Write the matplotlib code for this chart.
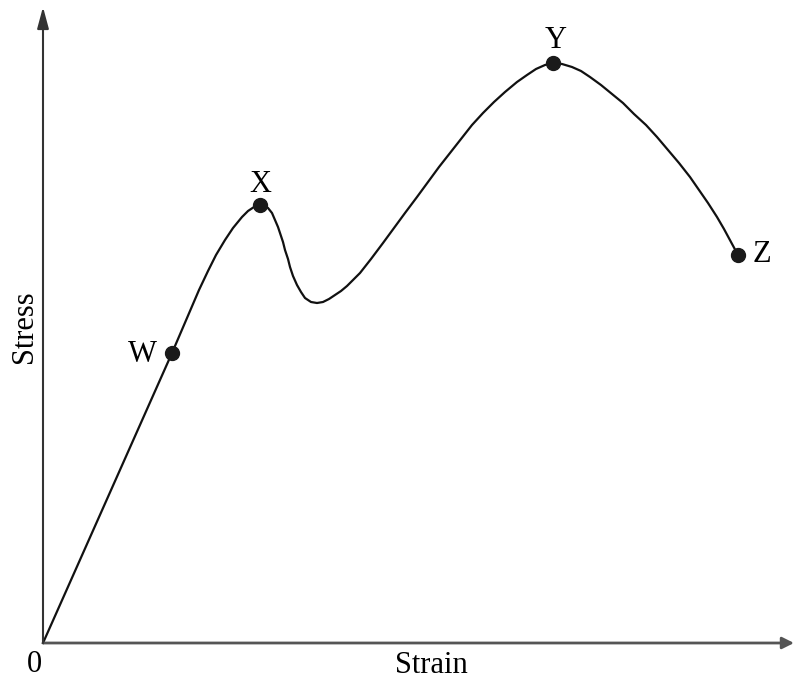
import matplotlib.pyplot as plt

# stress-strain curve (arbitrary units)
strain = [0, 129, 138, 147, 156, 165, 173, 182, 190, 199, 205, 211, 217,
          221, 225, 229, 232, 235, 237, 240, 242, 245, 247, 250, 254, 258,
          262, 268, 274, 280, 286, 292, 298, 304, 310, 317,
          328, 340, 351, 362, 374, 385, 396, 407, 418, 429, 440, 451,
          462, 474, 484, 493, 502, 510,
          519, 529, 538, 547, 558, 569, 580, 591, 603, 614, 625, 636, 647,
          656, 665, 674, 681, 688, 695]
stress = [0, 290, 311, 332, 353, 372, 388, 403, 415, 426, 432, 436, 438,
          438, 435, 430, 423, 416, 410, 401, 393, 384, 376, 367, 358, 351,
          345, 341, 340, 341, 344, 348, 352, 357, 363, 370,
          384, 400, 415, 430, 446, 461, 476, 490, 504, 518, 530, 541,
          551, 561, 568, 574, 578, 580,
          579, 576, 572, 566, 558, 549, 540, 529, 518, 506, 493, 480, 466,
          453, 440, 426, 414, 401, 388]

# labelled points W, X, Y, Z
pt_names = ['W', 'X', 'Y', 'Z']
pt_strain = [129, 217, 510, 695]
pt_stress = [290, 438, 580, 388]

plt.rcParams['font.family'] = ['Liberation Serif', 'DejaVu Serif']

fig = plt.figure(figsize=(7.94, 6.79), dpi=100)
ax = fig.add_axes([0, 0, 1, 1])
ax.set_xlim(-43, 751)
ax.set_ylim(-36, 643)
ax.axis('off')

# axes with arrow heads
ax.annotate('', xy=(751, 0), xytext=(0, 0),
            arrowprops=dict(arrowstyle='-|>,head_length=0.7,head_width=0.35',
                            color='#555555', lw=2, shrinkA=0, shrinkB=0))
ax.annotate('', xy=(0, 636), xytext=(0, 0),
            arrowprops=dict(arrowstyle='-|>,head_length=1.3,head_width=0.35',
                            color='#333333', lw=1.5, shrinkA=0, shrinkB=0))

ax.plot(strain, stress, color='#111111', lw=1.6, solid_joinstyle='round')
ax.plot(pt_strain, pt_stress, 'o', color='#1a1a1a', markersize=10)

fs = 22
ax.text(pt_strain[0] - 15, pt_stress[0] - 9, pt_names[0], fontsize=fs,
        ha='right', va='baseline')
ax.text(pt_strain[1], pt_stress[1] + 13, pt_names[1], fontsize=fs,
        ha='center', va='baseline')
ax.text(pt_strain[2] + 3, pt_stress[2] + 15, pt_names[2], fontsize=fs,
        ha='center', va='baseline')
ax.text(pt_strain[3] + 15, pt_stress[3] - 7, pt_names[3], fontsize=fs,
        ha='left', va='baseline')

ax.text(-9, -29, '0', fontsize=fs, ha='center', va='baseline')
ax.text(388, -30, 'Strain', fontsize=fs, ha='center', va='baseline')
ax.text(-18, 316, 'Stress', fontsize=fs, ha='center', va='center',
        rotation=90)

fig.savefig('out.png', dpi=100)
